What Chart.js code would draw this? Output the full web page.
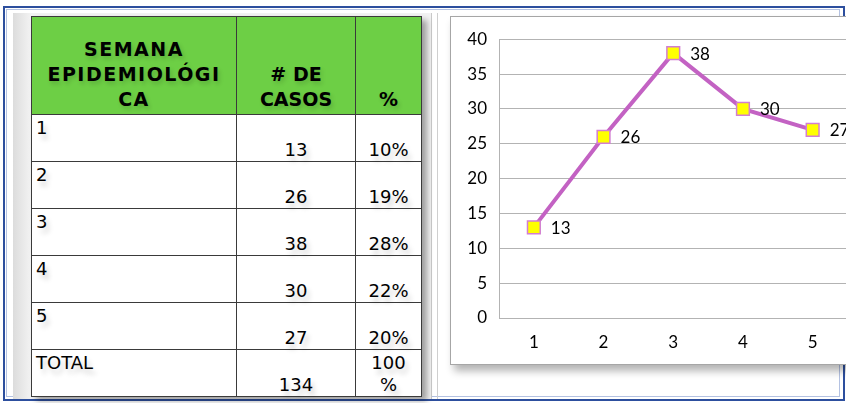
<!DOCTYPE html>
<html>
<head>
<meta charset="utf-8">
<script src="https://cdn.jsdelivr.net/npm/chart.js@4"></script>
<style>
body { margin: 0; width: 846px; height: 403px; overflow: hidden; background: #fff; position: relative; font-family: "DejaVu Sans", Verdana, sans-serif; }
#frame { position: absolute; left: 3px; top: 6px; width: 838px; height: 391px; border: 2px solid #2d4f9e; }
#frame2 { position: absolute; left: 6px; top: 9px; width: 832px; height: 386px; border: 1px solid #b4c2e2; }
#panel { position: absolute; left: 13px; top: 13px; width: 418px; height: 386px; background: linear-gradient(to right, #dcdcdc, #f3f3f3 18px, #f3f3f3); border-right: 1px solid #c9c9c9; }
#line2 { position: absolute; left: 437px; top: 13px; width: 1px; height: 386px; background: #cfcfcf; }
table { position: absolute; left: 31px; top: 16px; width: 390px; table-layout: fixed; border-collapse: collapse; background: #fff; box-shadow: 5px 4px 6px rgba(0,0,0,.35); }
th, td { border: 1px solid #3a3a3a; font-size: 18px; text-shadow: 3px 5px 5px rgba(0,0,0,.18); }
th { background: #6dcf45; font-weight: bold; font-size: 19px; line-height: 25px; height: 95px; vertical-align: bottom; text-align: center; padding: 0 0 2px 0; text-shadow: 2px 3px 4px rgba(0,0,0,.15); }
th.c1 { letter-spacing: 1.5px; }
td { height: 44px; padding: 0; }
td.sem { vertical-align: top; text-align: left; padding: 2px 4px; height: 42px; }
td.num { vertical-align: bottom; text-align: center; line-height: 22px; }
#box { position: absolute; left: 450px; top: 16px; width: 420px; height: 347px; border: 1px solid #a6a6a6; background: #fff; box-shadow: 4px 6px 8px rgba(0,0,0,.3); }
#box canvas { position: absolute; left: 0; top: 0; }
</style>
</head>
<body>
<div id="frame"></div>
<div id="frame2"></div>
<div id="panel"></div>
<div id="line2"></div>
<table id="tabla">
  <colgroup><col style="width:205px"><col style="width:119px"><col style="width:66px"></colgroup>
  <thead>
    <tr><th class="c1">SEMANA<br>EPIDEMIOLÓGI<br>CA</th><th># DE<br>CASOS</th><th>%</th></tr>
  </thead>
  <tbody id="cuerpo"></tbody>
</table>
<div id="box"><canvas id="grafico" width="407" height="347"></canvas></div>
<script>
const semanas = ["1", "2", "3", "4", "5"];
const casos = [13, 26, 38, 30, 27];
const porcentajes = ["10%", "19%", "28%", "22%", "20%"];
const total = 134;
const totalPct = "100<br>%";
const yTicks = [0, 5, 10, 15, 20, 25, 30, 35, 40];

// tabla
const cuerpo = document.getElementById("cuerpo");
semanas.forEach((s, i) => {
    const tr = document.createElement("tr");
    tr.innerHTML = '<td class="sem">' + s + '</td><td class="num">' + casos[i] + '</td><td class="num">' + porcentajes[i] + '</td>';
    cuerpo.appendChild(tr);
});
const trTotal = document.createElement("tr");
trTotal.innerHTML = '<td class="sem">TOTAL</td><td class="num">' + total + '</td><td class="num">' + totalPct + '</td>';
cuerpo.appendChild(trTotal);

// etiquetas de valores
const etiquetas = {
    id: 'etiquetas',
    afterDatasetsDraw(chart) {
        const ctx = chart.ctx;
        const meta = chart.getDatasetMeta(0);
        ctx.save();
        ctx.font = '17px Lato, "Open Sans", sans-serif';
        ctx.fillStyle = '#000';
        ctx.textAlign = 'left';
        ctx.textBaseline = 'middle';
        meta.data.forEach((p, i) => {
            ctx.fillText(casos[i], p.x + 17, p.y + 1);
        });
        ctx.restore();
    }
};

const fuente = { size: 17, family: 'Lato, "Open Sans", sans-serif' };

new Chart(document.getElementById('grafico').getContext('2d'), {
    type: 'line',
    data: {
        labels: semanas,
        datasets: [{
            data: casos,
            borderColor: '#c362c3',
            borderWidth: 4,
            pointStyle: 'rect',
            pointRadius: 9,
            pointHoverRadius: 9,
            pointBackgroundColor: '#ffff00',
            pointBorderColor: '#d27ed2',
            pointBorderWidth: 1.5,
            tension: 0
        }]
    },
    options: {
        responsive: false,
        animation: false,
        layout: { padding: { top: 20, right: 4, left: 0, bottom: 0 } },
        plugins: { legend: { display: false }, tooltip: { enabled: false } },
        scales: {
            x: {
                offset: true,
                grid: { display: false, drawTicks: false },
                border: { display: false },
                ticks: { color: '#000', font: fuente, padding: 14 },
                afterFit(s) { s.height = 46; }
            },
            y: {
                min: 0, max: 40,
                afterBuildTicks(s) { s.ticks = yTicks.map(v => ({ value: v })); },
                ticks: { color: '#000', font: fuente, padding: 12 },
                grid: { color: '#b3b3b3', drawTicks: false, lineWidth: 1 },
                border: { color: '#b3b3b3' },
                afterFit(s) { s.width = 48; }
            }
        }
    },
    plugins: [etiquetas]
});
</script>
</body>
</html>
